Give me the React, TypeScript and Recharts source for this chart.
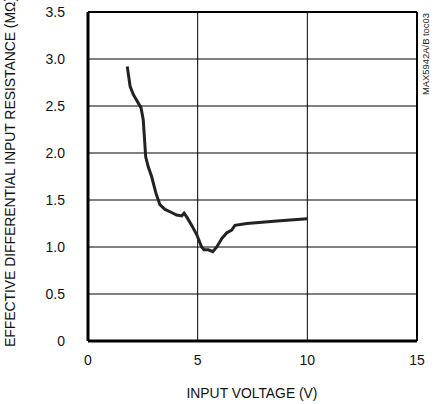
import { LineChart, Line, XAxis, YAxis, CartesianGrid, ReferenceLine } from 'recharts';

// input voltage (V) vs effective differential input resistance (MΩ)
const voltage = [1.79, 1.92, 2.07, 2.42, 2.52, 2.63, 2.75, 2.9, 3.1, 3.28, 3.51, 3.74, 4.04, 4.27, 4.38, 4.5, 4.73, 4.96, 5.18, 5.29, 5.49, 5.69, 5.87, 6.1, 6.32, 6.55, 6.7, 7.24, 8.76, 10.0];
const resistance = [2.92, 2.71, 2.62, 2.48, 2.35, 1.96, 1.85, 1.75, 1.57, 1.45, 1.4, 1.375, 1.34, 1.33, 1.36, 1.32, 1.23, 1.13, 1.0, 0.97, 0.97, 0.95, 1.0, 1.09, 1.15, 1.18, 1.23, 1.25, 1.28, 1.3];

const xTicks = [0, 5, 10, 15];
const yTicks = [0, 0.5, 1, 1.5, 2, 2.5, 3, 3.5];

const data = voltage.map((v, i) => ({ v, r: resistance[i] }));

const FONT = "'Liberation Sans', Arial, sans-serif";

export default function App() {
    return (
        <div style={{ position: 'absolute', left: 0, top: 0, width: 435, height: 404, fontFamily: FONT }}>
            <LineChart width={435} height={404} data={data} margin={{ top: 12, right: 18, bottom: 33, left: 8 }}>
                <CartesianGrid stroke="#000" strokeWidth={1} horizontalValues={yTicks} verticalValues={xTicks} />
                <XAxis
                    dataKey="v"
                    type="number"
                    domain={[0, 15]}
                    ticks={xTicks}
                    tickLine={false}
                    axisLine={{ stroke: '#000', strokeWidth: 3 }}
                    tick={{ fill: '#111', fontSize: 14, fontFamily: FONT }}
                    tickMargin={8}
                />
                <YAxis
                    type="number"
                    domain={[0, 3.5]}
                    ticks={yTicks}
                    width={80}
                    tickLine={false}
                    axisLine={{ stroke: '#000', strokeWidth: 3 }}
                    tick={{ fill: '#111', fontSize: 14, fontFamily: FONT }}
                    tickMargin={17}
                    tickFormatter={(t: number) => (t === 0 ? '0' : t.toFixed(1))}
                />
                <ReferenceLine y={3.5} stroke="#000" strokeWidth={2} />
                <ReferenceLine x={15} stroke="#000" strokeWidth={2} />
                <Line dataKey="r" stroke="#222" strokeWidth={3} dot={false} isAnimationActive={false} type="linear" />
            </LineChart>
            <svg style={{ position: 'absolute', left: 0, top: 0 }} width={435} height={404} pointerEvents="none">
                <text
                    x={15}
                    y={172}
                    transform="rotate(-90 15 172)"
                    textAnchor="middle"
                    fontSize={14}
                    fill="#111"
                    fontFamily={FONT}
                    textLength={350}
                    lengthAdjust="spacingAndGlyphs"
                >
                    EFFECTIVE DIFFERENTIAL INPUT RESISTANCE (MΩ)
                </text>
                <text
                    x={252}
                    y={398}
                    textAnchor="middle"
                    fontSize={14}
                    fill="#111"
                    fontFamily={FONT}
                    textLength={131}
                    lengthAdjust="spacingAndGlyphs"
                >
                    INPUT VOLTAGE (V)
                </text>
                <text
                    x={429}
                    y={95}
                    transform="rotate(-90 429 95)"
                    fontSize={9}
                    fill="#222"
                    fontFamily={FONT}
                    textLength={82}
                    lengthAdjust="spacingAndGlyphs"
                >
                    MAX5942A/B toc03
                </text>
            </svg>
        </div>
    );
}
